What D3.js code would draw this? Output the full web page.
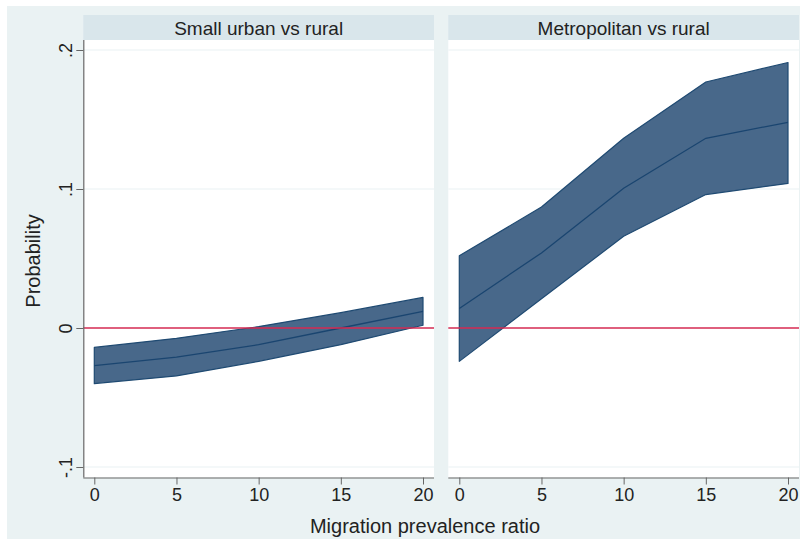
<!DOCTYPE html>
<html><head><meta charset="utf-8">
<script src="https://cdn.jsdelivr.net/npm/d3@7/dist/d3.min.js"></script>
<style>body{margin:0;background:#fff}svg{display:block}text{font-family:"Liberation Sans",Arial,sans-serif;fill:#222}</style>
</head><body><svg id="c" width="800" height="539"></svg>
<script>
const xVals = [0, 5, 10, 15, 20];
const panelTitles = ["Small urban vs rural", "Metropolitan vs rural"];
const smallMid = [-0.027, -0.021, -0.012, 0.000, 0.012];
const smallLo  = [-0.040, -0.0345, -0.024, -0.012, 0.002];
const smallHi  = [-0.014, -0.0074, 0.001, 0.011, 0.022];
const metroMid = [0.014, 0.054, 0.1005, 0.1365, 0.148];
const metroLo  = [-0.024, 0.021, 0.066, 0.096, 0.104];
const metroHi  = [0.052, 0.087, 0.1365, 0.177, 0.191];
const yTicks = [-0.1, 0, 0.1, 0.2];
const yTickLabels = ["-.1", "0", ".1", ".2"];
const xTicks = [0, 5, 10, 15, 20];

const series = [
  {title: panelTitles[0], mid: smallMid, lo: smallLo, hi: smallHi},
  {title: panelTitles[1], mid: metroMid, lo: metroLo, hi: metroHi}
];

const svg = d3.select("#c");
svg.append("rect").attr("x",7).attr("y",6).attr("width",793).attr("height",533).attr("fill","#eaf2f3");

const plotTop = 40, plotBottom = 477.5;
const y = d3.scaleLinear().domain([-0.1, 0.2]).range([467, 50]);
const panelLefts = [83.3, 448.3], panelW = 350.7, pad = 11;

series.forEach((s, i) => {
  const L = panelLefts[i];
  const x = d3.scaleLinear().domain([0, 20]).range([L + pad, L + panelW - pad]);
  const g = svg.append("g");
  g.append("rect").attr("x", L).attr("y", 15).attr("width", panelW).attr("height", 25).attr("fill", "#d9e6eb");
  g.append("text").attr("x", L + panelW/2).attr("y", 34.5).attr("text-anchor","middle")
    .attr("font-size", 19).text(s.title);
  g.append("rect").attr("x", L).attr("y", plotTop).attr("width", panelW).attr("height", plotBottom - plotTop).attr("fill", "#fff");
  g.selectAll(".grid").data(yTicks.filter(v => v !== 0)).join("line")
    .attr("x1", L).attr("x2", L + panelW).attr("y1", d => y(d)).attr("y2", d => y(d))
    .attr("stroke", "#eaf2f3").attr("stroke-width", 1.2);
  const pts = xVals.map((xv, k) => ({x: xv, lo: s.lo[k], hi: s.hi[k], mid: s.mid[k]}));
  const area = d3.area().x(d => x(d.x)).y0(d => y(d.lo)).y1(d => y(d.hi));
  g.append("path").datum(pts).attr("d", area).attr("fill", "#48688a").attr("stroke", "#1f4a72").attr("stroke-width", 1.2).attr("stroke-linejoin","round");
  g.append("path").datum(pts).attr("d", d3.line().x(d => x(d.x)).y(d => y(d.mid)))
    .attr("fill", "none").attr("stroke", "#1a4570").attr("stroke-width", 1.3);
  g.append("line").attr("x1", L).attr("x2", L + panelW).attr("y1", y(0)).attr("y2", y(0))
    .attr("stroke", "#d42a52").attr("stroke-width", 1.6);
  const xa = g.append("g").attr("transform", `translate(0,${plotBottom})`)
    .call(d3.axisBottom(x).tickValues(xTicks).tickSize(7).tickSizeOuter(0).tickPadding(4));
  xa.select(".domain").attr("d", `M${L},0.5H${L + panelW}`).attr("stroke", "#666").attr("stroke-width", 1.2);
  xa.selectAll(".tick line").attr("stroke", "#666");
  xa.selectAll(".tick text").attr("font-size", 18).attr("font-family", '"Liberation Sans",Arial,sans-serif').attr("fill", "#222");
  if (i === 0) {
    const ya = g.append("g").attr("transform", `translate(${L},0)`)
      .call(d3.axisLeft(y).tickValues(yTicks).tickFormat((d, k) => yTickLabels[k]).tickSize(7).tickSizeOuter(0));
    ya.select(".domain").attr("d", `M0.5,${plotTop}V${plotBottom}`).attr("stroke", "#666").attr("stroke-width", 1.2);
    ya.selectAll(".tick line").attr("stroke", "#666");
    ya.selectAll(".tick text").attr("font-size", 18).attr("font-family", '"Liberation Sans",Arial,sans-serif').attr("fill", "#222")
      .attr("x", null).attr("dy", null).attr("text-anchor", "middle")
      .attr("transform", "translate(-11,0) rotate(-90)").attr("y", 0);
  }
});

svg.append("text").attr("x", 425).attr("y", 533).attr("text-anchor", "middle").attr("font-size", 20).text("Migration prevalence ratio");
svg.append("text").attr("transform", "translate(40,261) rotate(-90)").attr("text-anchor", "middle").attr("font-size", 20).text("Probability");
</script></body></html>
